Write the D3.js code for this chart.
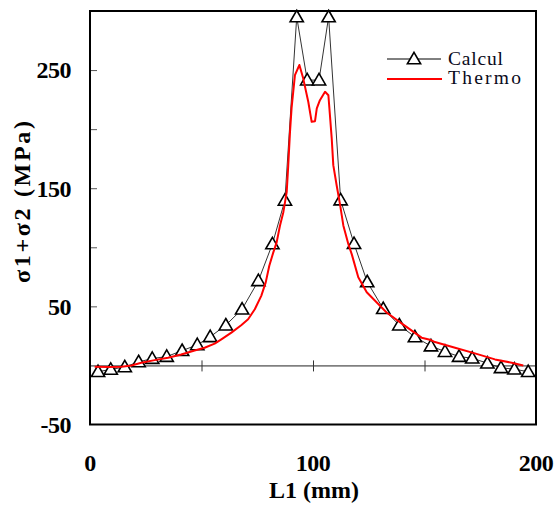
<!DOCTYPE html>
<html>
<head>
<meta charset="utf-8">
<script src="https://cdn.jsdelivr.net/npm/d3@7"></script>
<style>
  html, body { margin: 0; padding: 0; background: #fff; }
  svg { display: block; }
</style>
</head>
<body>
<svg id="chart" width="555" height="506"></svg>
<script>
// ---- data ----
const calculX = [3.6, 9.3, 15.6, 21.8, 27.9, 34.4, 41.3, 48.1, 53.9, 60.9, 68.2, 75.5, 81.8, 87.4, 92.7, 97.4,
                 102.7, 107.0, 112.4, 118.4, 124.3, 131.5, 138.7, 145.7, 152.9, 159.2, 165.5, 171.4, 178.2, 184.3, 190.3, 196.5];
const calculY = [-5.3, -3.4, -1.3, 3.0, 5.8, 7.5, 12.5, 17.4, 24.2, 34.1, 47.6, 71.6, 102.8, 139.7, 295, 241.5,
                 241.5, 295, 140, 103, 70.7, 48, 34.1, 24.1, 16.4, 11.7, 7.5, 6.1, 1.9, -2.0, -3.2, -5.3];
const thermoX = [2.1, 8.1, 14.1, 18.6, 23.0, 29.0, 35.0, 40.9, 46.9, 51.4, 55.9, 58.9, 63.4, 67.8, 70.9, 73.9,
                 76.8, 78.8, 80.4, 82.2, 83.7, 85.2, 86.7, 88.2, 88.9, 89.7, 90.4, 91.9, 93.9, 95.6, 97.9, 99.4,
                 100.9, 101.7, 103.1, 105.4, 106.9, 107.6, 108.4, 109.1, 110.6, 112.1, 113.6, 115.8, 117.4, 120.3,
                 124.1, 133.0, 140.5, 148.7, 152.9, 154.7, 163.7, 172.6, 181.6, 189.1, 194.3];
const thermoY = [-1.1, -1.4, -1.1, 0, 2.3, 4.5, 6.5, 9.3, 12.7, 15, 18.4, 22.1, 27.8, 34, 39.1, 47.6,
                 58.9, 70.3, 84.4, 95.7, 104.2, 118.4, 129.7, 146.7, 169.3, 198, 218, 245.8, 254.3, 243, 223, 206.2,
                 206.7, 217.5, 224.5, 231.6, 228.7, 211.7, 192, 169.5, 152.5, 136.5, 118.5, 103, 94, 74.6,
                 62, 44.8, 34.5, 23.5, 21.5, 19.8, 15, 10.2, 5.1, 2.3, 0];
const xTickLabels = [0, 100, 200];
const xCrossTicks = [50, 100, 150];
const yTickLabels = [-50, 50, 150, 250];
const yTicks = [50, 100, 150, 200, 250];
const seriesNames = ["Calcul", "Thermo"];
const xTitle = "L1 (mm)";
const yTitle = "σ1+σ2 (MPa)";

// ---- layout ----
const svg = d3.select("#chart");
const x = d3.scaleLinear().domain([0, 200]).range([90, 536]);
const y = d3.scaleLinear().domain([-50, 300]).range([424.5, 11]);
const serif = "'Liberation Serif', 'Times New Roman', serif";

// zero line with cross ticks
const zeroAxis = d3.axisBottom(x).tickValues(xCrossTicks).tickSize(0).tickFormat("");
const zg = svg.append("g").attr("transform", `translate(0,${y(0)})`).call(zeroAxis);
zg.select(".domain").attr("stroke", "#222").attr("stroke-width", 1);
zg.selectAll(".tick").append("line")
  .attr("y1", -5).attr("y2", 6).attr("stroke", "#333").attr("stroke-width", 1);

// left axis ticks (inside)
const yAxis = d3.axisRight(y).tickValues(yTicks).tickSize(7).tickFormat("");
const yg = svg.append("g").attr("transform", `translate(${x(0)},0)`).call(yAxis);
yg.select(".domain").remove();
yg.selectAll(".tick line").attr("stroke", "#555").attr("stroke-width", 1);

// y tick labels
svg.append("g").selectAll("text").data(yTickLabels).join("text")
  .attr("x", 71).attr("y", d => y(d)).attr("dy", "0.35em")
  .attr("text-anchor", "end")
  .attr("font-family", serif).attr("font-weight", "bold").attr("font-size", 24)
  .attr("letter-spacing", -0.5)
  .text(d => d);

// x tick labels
svg.append("g").selectAll("text").data(xTickLabels).join("text")
  .attr("x", d => x(d)).attr("y", 463).attr("dy", "0.35em")
  .attr("text-anchor", "middle")
  .attr("font-family", serif).attr("font-weight", "bold").attr("font-size", 24)
  .attr("letter-spacing", -0.5)
  .text(d => d);

// axis titles
svg.append("text").attr("x", 314).attr("y", 490).attr("dy", "0.35em")
  .attr("text-anchor", "middle")
  .attr("font-family", serif).attr("font-weight", "bold").attr("font-size", 24)
  .text(xTitle);
svg.append("text")
  .attr("transform", "translate(22,202) rotate(-90)")
  .attr("dy", "0.35em").attr("text-anchor", "middle")
  .attr("font-family", serif).attr("font-weight", "bold").attr("font-size", 24)
  .attr("textLength", 162).attr("lengthAdjust", "spacing")
  .text(yTitle);

// series
const calcul = calculX.map((d, i) => [d, calculY[i]]);
const thermo = thermoX.map((d, i) => [d, thermoY[i]]);
const line = d3.line().x(d => x(d[0])).y(d => y(d[1]));
const tri = d3.symbol().type(d3.symbolTriangle).size(76);

svg.append("path").datum(calcul).attr("d", line)
  .attr("fill", "none").attr("stroke", "#333").attr("stroke-width", 1);
svg.append("g").selectAll("path").data(calcul).join("path")
  .attr("d", tri)
  .attr("transform", d => `translate(${x(d[0])},${y(d[1]) + 1})`)
  .attr("fill", "#fff").attr("stroke", "#000").attr("stroke-width", 1.6);
svg.append("path").datum(thermo).attr("d", line)
  .attr("fill", "none").attr("stroke", "#ff0000").attr("stroke-width", 2)
  .attr("stroke-linejoin", "round");

// frame
svg.append("rect")
  .attr("x", x(0)).attr("y", y(300))
  .attr("width", x(200) - x(0)).attr("height", y(-50) - y(300))
  .attr("fill", "none").attr("stroke", "#000").attr("stroke-width", 2);

// legend
const lg = svg.append("g");
lg.append("line").attr("x1", 387).attr("x2", 441).attr("y1", 59).attr("y2", 59)
  .attr("stroke", "#000").attr("stroke-width", 1);
lg.append("path").attr("d", tri).attr("transform", "translate(414,60)")
  .attr("fill", "#fff").attr("stroke", "#000").attr("stroke-width", 1.6);
lg.append("line").attr("x1", 387).attr("x2", 442).attr("y1", 79).attr("y2", 79)
  .attr("stroke", "#ff0000").attr("stroke-width", 2);
lg.append("text").attr("x", 448).attr("y", 64.5)
  .attr("font-family", serif).attr("font-size", 19.5).attr("fill", "#0a0a1a")
  .attr("textLength", 55).attr("lengthAdjust", "spacing")
  .text(seriesNames[0]);
lg.append("text").attr("x", 448).attr("y", 84)
  .attr("font-family", serif).attr("font-size", 19.5).attr("fill", "#0a0a1a")
  .attr("textLength", 73).attr("lengthAdjust", "spacing")
  .text(seriesNames[1]);
</script>
</body>
</html>
